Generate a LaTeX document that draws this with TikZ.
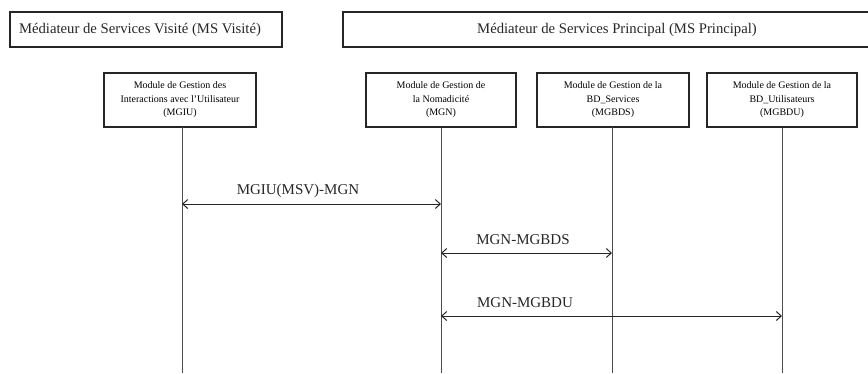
\documentclass[tikz,border=0pt]{standalone}
\usepackage{fontspec}
\setmainfont{Liberation Serif}
\usetikzlibrary{arrows.meta}
\begin{document}
\begin{tikzpicture}[x=1pt,y=-1pt,
  hdr/.style={draw=black!85,line width=1.1pt,rectangle},
  modbox/.style={draw=black!85,line width=1.1pt,rectangle,align=center,font=\fontsize{10}{13.5}\selectfont,inner sep=0pt},
  lifeln/.style={draw=black!70,line width=1pt},
  msg/.style={draw=black!85,line width=1pt,{Straight Barb[length=5pt,width=9pt]}-{Straight Barb[length=5pt,width=9pt]}},
  lbl/.style={font=\fontsize{15}{18}\selectfont,inner sep=0pt,text=black!85},
  htxt/.style={font=\fontsize{14.7}{17}\selectfont,inner sep=0pt,text=black!85}]
\useasboundingbox (0,0) rectangle (868,373);
\begin{scope}
\clip (0,0) rectangle (868,373);
% header boxes
\draw[hdr] (10,12) rectangle (282,47);
\node[htxt] (hv) at (140,29.5) {Médiateur de Services Visité (MS Visité)};
\draw[hdr] (343,12) rectangle (890,47);
\node[htxt] (hp) at (617,29.5) {Médiateur de Services Principal (MS Principal)};
% module boxes
\node[modbox,minimum width=152pt,minimum height=54pt] (mgiu) at (180,100) {Module de Gestion des\\Interactions avec l'Utilisateur\\(MGIU)};
\node[modbox,minimum width=150pt,minimum height=54pt] (mgn) at (441,100) {Module de Gestion de\\la Nomadicité\\(MGN)};
\node[modbox,minimum width=152pt,minimum height=54pt] (mgbds) at (613,100) {Module de Gestion de la\\BD\_Services\\(MGBDS)};
\node[modbox,minimum width=150pt,minimum height=54pt] (mgbdu) at (782,100) {Module de Gestion de la\\BD\_Utilisateurs\\(MGBDU)};
% lifeline ends
\coordinate (e1) at (182,373);
\coordinate (e2) at (441,373);
\coordinate (e3) at (612,373);
\coordinate (e4) at (782,373);
\draw[lifeln] (182,127) -- (e1);
\draw[lifeln] (mgn.south) -- (e2);
\draw[lifeln] (612,127) -- (e3);
\draw[lifeln] (mgbdu.south) -- (e4);
% messages
\coordinate (a1) at (182,204);
\coordinate (b1) at (441,204);
\draw[msg] (a1) -- (b1);
\node[lbl] (l1) at (298,191) {MGIU(MSV)-MGN};
\coordinate (a2) at (441,253);
\coordinate (b2) at (612,253);
\draw[msg] (a2) -- (b2);
\node[lbl] (l2) at (523,240) {MGN-MGBDS};
\coordinate (a3) at (441,316);
\coordinate (b3) at (782,316);
\draw[msg] (a3) -- (b3);
\node[lbl] (l3) at (525,303) {MGN-MGBDU};
\end{scope}
\end{tikzpicture}
\end{document}
